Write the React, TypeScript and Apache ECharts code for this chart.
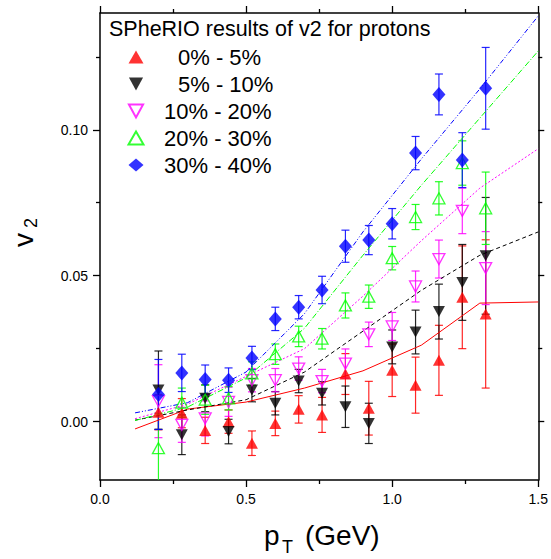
import React, { useEffect, useRef } from "react";
import * as echarts from "echarts";

// ---- data ----
const pT = [0.2, 0.28, 0.36, 0.44, 0.52, 0.6, 0.68, 0.76, 0.84, 0.92, 1.0, 1.08, 1.16, 1.24, 1.32];

const v2_0_5 = [0.0032, 0.0029, -0.003, 0.0, -0.0074, -0.0006, 0.0042, 0.0023, 0.0163, 0.0046, 0.0176, 0.0125, 0.021, 0.0426, 0.0369];
const err_0_5 = [0.006, 0.005, 0.0045, 0.004, 0.0042, 0.0042, 0.0047, 0.006, 0.007, 0.0092, 0.009, 0.0096, 0.012, 0.0176, 0.0254];

const v2_5_10 = [0.0108, -0.0045, 0.008, -0.0034, 0.0108, 0.0063, 0.0139, 0.0097, 0.0051, -0.0006, 0.0256, 0.0307, 0.0377, 0.0477, 0.0568];
const err_5_10 = [0.0134, 0.0068, 0.0046, 0.0042, 0.004, 0.004, 0.004, 0.004, 0.0071, 0.0069, 0.0058, 0.0075, 0.0094, 0.013, 0.02];

const v2_10_20 = [0.007, -0.0011, 0.0011, 0.0068, 0.0142, 0.0142, 0.0182, 0.0139, 0.0199, 0.0299, 0.0326, 0.0463, 0.0557, 0.0722, 0.0526];
const err_10_20 = [0.0125, 0.006, 0.006, 0.005, 0.004, 0.004, 0.004, 0.004, 0.005, 0.0042, 0.0048, 0.0053, 0.0065, 0.0078, 0.0125];

const v2_20_30 = [-0.0091, 0.0065, 0.0075, 0.008, 0.0165, 0.0231, 0.0292, 0.0284, 0.0398, 0.0428, 0.056, 0.0701, 0.0765, 0.0886, 0.0731];
const err_20_30 = [0.012, 0.005, 0.005, 0.004, 0.004, 0.0035, 0.0035, 0.0035, 0.0043, 0.004, 0.004, 0.0043, 0.0057, 0.0076, 0.0124];

const v2_30_40 = [0.0093, 0.0167, 0.0144, 0.0142, 0.0218, 0.0352, 0.0392, 0.0451, 0.0601, 0.0622, 0.0678, 0.092, 0.1121, 0.0896, 0.1142];
const err_30_40 = [0.012, 0.0064, 0.005, 0.0042, 0.004, 0.004, 0.004, 0.0047, 0.0055, 0.005, 0.0052, 0.0057, 0.007, 0.0094, 0.014];

// model curves
const modelPt = [0.12, 0.3, 0.5, 0.7, 0.9, 1.1, 1.3, 1.5];
const model_0_5 = [-0.0025, 0.0043, 0.0067, 0.0115, 0.0174, 0.0262, 0.0406, 0.041];
const model_5_10 = [0.0005, 0.004, 0.0075, 0.017, 0.031, 0.045, 0.057, 0.065];
const model_10_20 = [0.001, 0.006, 0.0155, 0.025, 0.043, 0.062, 0.08, 0.0935];
const model_20_30 = [0.0004, 0.005, 0.015, 0.032, 0.057, 0.081, 0.104, 0.127];
const model_30_40 = [0.003, 0.0065, 0.017, 0.037, 0.065, 0.09, 0.114, 0.139];

const names = ["0% - 5%", "5% - 10%", "10% - 20%", "20% - 30%", "30% - 40%"];
const yMajor = [0, 0.05, 0.1];
const yMinor = [0.025, 0.075, 0.125];
const legendTitle = "SPheRIO results of v2 for protons";

const FONT = "'Liberation Sans', Arial, Helvetica, sans-serif";

const DOWN = "path://M0,0L12,0L6,11Z";

const groups = [
  { name: names[0], v: v2_0_5, e: err_0_5, m: model_0_5, color: "#ff0000", symbol: "triangle", open: false, dash: "solid" as any, size: [12, 11] },
  { name: names[1], v: v2_5_10, e: err_5_10, m: model_5_10, color: "#000000", symbol: DOWN, open: false, dash: [4, 3], size: [12, 11] },
  { name: names[2], v: v2_10_20, e: err_10_20, m: model_10_20, color: "#ff00ff", symbol: DOWN, open: true, dash: [2, 2], size: [12, 11] },
  { name: names[3], v: v2_20_30, e: err_20_30, m: model_20_30, color: "#00ff00", symbol: "triangle", open: true, dash: [6, 2, 1, 2], size: [12, 11] },
  { name: names[4], v: v2_30_40, e: err_30_40, m: model_30_40, color: "#0000ff", symbol: "diamond", open: false, dash: [5, 2, 1, 2, 1, 2], size: [13, 15] },
];

export default function App() {
  const ref = useRef<HTMLDivElement>(null);
  useEffect(() => {
    if (!ref.current) return;
    const chart = echarts.init(ref.current, undefined, { renderer: "svg" });

    const series: any[] = [];
    groups.forEach((g) => {
      series.push({
        name: g.name + " error",
        type: "custom",
        xAxisIndex: 0,
        yAxisIndex: 0,
        clip: true,
        z: 2,
        data: pT.map((x, i) => [x, g.v[i], g.e[i]]),
        encode: { x: 0, y: 1 },
        renderItem: (params: any, api: any) => {
          const x = api.value(0);
          const y = api.value(1);
          const e = api.value(2);
          const t = api.coord([x, y + e]);
          const b = api.coord([x, y - e]);
          const hw = 4;
          const st = { stroke: g.color, lineWidth: 1.2, opacity: 0.85 };
          return {
            type: "group",
            children: [
              { type: "line", shape: { x1: t[0], y1: t[1], x2: b[0], y2: b[1] }, style: st },
              { type: "line", shape: { x1: t[0] - hw, y1: t[1], x2: t[0] + hw, y2: t[1] }, style: st },
              { type: "line", shape: { x1: b[0] - hw, y1: b[1], x2: b[0] + hw, y2: b[1] }, style: st },
            ],
          };
        },
      });
    });
    groups.forEach((g) => {
      series.push({
        name: g.name + " model",
        type: "line",
        xAxisIndex: 0,
        yAxisIndex: 0,
        showSymbol: false,
        symbol: "none",
        z: 3,
        data: modelPt.map((x, i) => [x, g.m[i]]),
        lineStyle: { color: g.color, width: 1, type: g.dash },
      });
    });
    groups.forEach((g, gi) => {
      series.push({
        name: g.name,
        type: "scatter",
        xAxisIndex: 0,
        yAxisIndex: 0,
        z: 4 + gi,
        symbol: g.symbol,
        symbolSize: g.size,
        data: pT.map((x, i) => [x, g.v[i]]),
        itemStyle: g.open
          ? { color: "rgba(255,255,255,0)", borderColor: g.color, borderWidth: 1.3 }
          : { color: g.color, borderWidth: 0 },
      });
    });

    const axisLine = { show: true, onZero: false, lineStyle: { color: "#000", width: 1.5 } };
    const label = { fontFamily: FONT, fontSize: 14, color: "#000" };
    const tickStyle = { color: "#000", width: 1.3 };

    chart.setOption({
      animation: false,
      title: {
        text: legendTitle,
        left: 104,
        top: 13,
        textStyle: { fontFamily: FONT, fontSize: 21.5, fontWeight: "normal", color: "#000" },
      },
      legend: {
        orient: "vertical",
        left: 122.5,
        top: 41,
        itemWidth: 15,
        itemHeight: 13,
        itemGap: 5,
        selectedMode: false,
        textStyle: {
          fontFamily: FONT,
          fontSize: 22,
          color: "#000",
          lineHeight: 22,
          rich: {
            a: { width: 29.5, fontSize: 22, fontFamily: FONT },
            b: { width: 15.5, fontSize: 22, fontFamily: FONT },
          },
        },
        formatter: (n: string) => (n === names[0] || n === names[1] ? "{a| }" : "{b| }") + n,
        data: names.map((n, i) => ({ name: n, icon: groups[i].symbol })),
      },
      grid: { left: 100, top: 13, width: 439, height: 467, containLabel: false },
      xAxis: [
        {
          type: "value",
          position: "bottom",
          min: 0,
          max: 1.5,
          interval: 0.5,
          axisLine,
          axisTick: { show: true, inside: false, length: 7, lineStyle: tickStyle },
          minorTick: { show: true, splitNumber: 2, length: 4, lineStyle: tickStyle },
          axisLabel: { ...label, margin: 12, formatter: (v: number) => v.toFixed(1) },
          splitLine: { show: false },
        },
        {
          type: "value",
          position: "top",
          min: 0,
          max: 1.5,
          interval: 0.5,
          axisLine,
          axisTick: { show: true, inside: false, length: 7, lineStyle: tickStyle },
          minorTick: { show: true, splitNumber: 2, length: 4, lineStyle: tickStyle },
          axisLabel: { show: false },
          splitLine: { show: false },
        },
      ],
      yAxis: [
        {
          type: "value",
          position: "left",
          min: -0.02,
          max: 0.14,
          axisLine,
          axisTick: { show: true, length: 7, customValues: yMajor, lineStyle: tickStyle },
          axisLabel: { ...label, margin: 12, customValues: yMajor, formatter: (v: number) => v.toFixed(2) },
          splitLine: { show: false },
        },
        {
          type: "value",
          position: "left",
          min: -0.02,
          max: 0.14,
          axisLine: { show: false, onZero: false },
          axisTick: { show: true, length: 4, customValues: yMinor, lineStyle: tickStyle },
          axisLabel: { show: false, customValues: yMinor },
          splitLine: { show: false },
        },
        {
          type: "value",
          position: "right",
          min: -0.02,
          max: 0.14,
          axisLine,
          axisTick: { show: true, length: 6, customValues: yMajor, lineStyle: tickStyle },
          axisLabel: { show: false, customValues: yMajor },
          splitLine: { show: false },
        },
        {
          type: "value",
          position: "right",
          min: -0.02,
          max: 0.14,
          axisLine: { show: false, onZero: false },
          axisTick: { show: true, length: 4, customValues: yMinor, lineStyle: tickStyle },
          axisLabel: { show: false, customValues: yMinor },
          splitLine: { show: false },
        },
      ],
      graphic: [
        { type: "text", left: 264, top: 521, style: { text: "p", font: `28px ${FONT}`, fill: "#000" } },
        { type: "text", left: 282, top: 538, style: { text: "T", font: `18px ${FONT}`, fill: "#000" } },
        { type: "text", left: 305, top: 521, style: { text: "(GeV)", font: `28px ${FONT}`, fill: "#000" } },
        {
          type: "text",
          x: 23,
          y: 240,
          rotation: Math.PI / 2,
          style: { text: "v", font: `28px ${FONT}`, fill: "#000", align: "center", verticalAlign: "middle" },
        },
        {
          type: "text",
          x: 31,
          y: 223,
          rotation: Math.PI / 2,
          style: { text: "2", font: `18px ${FONT}`, fill: "#000", align: "center", verticalAlign: "middle" },
        },
      ],
      series,
    });
    return () => chart.dispose();
  }, []);
  return (
    <div
      ref={ref}
      style={{ position: "fixed", left: 0, top: 0, width: 551, height: 559, background: "#fff" }}
    />
  );
}
